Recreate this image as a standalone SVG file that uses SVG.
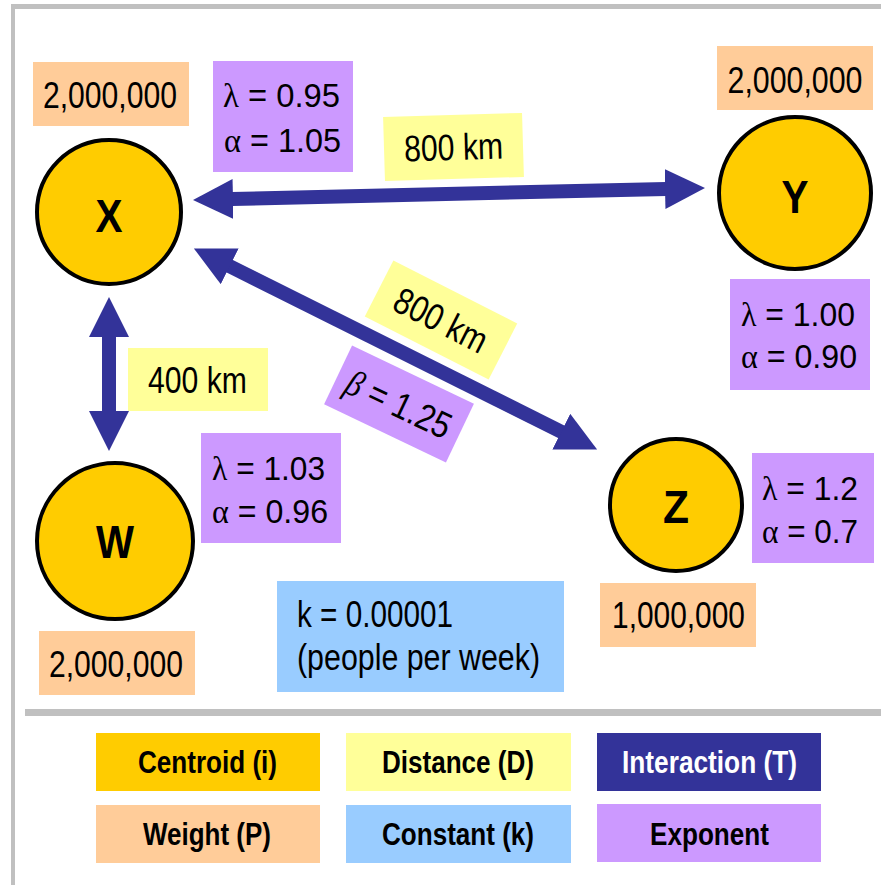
<svg xmlns="http://www.w3.org/2000/svg" width="881" height="885" viewBox="0 0 881 885">
  <style>
    text { font-family: "Liberation Sans", Arial, sans-serif; fill: #000; }
    .gk { font-family: "Liberation Serif", "Times New Roman", serif; }
    .w { fill: #FFCC99; }
    .e { fill: #CC99FF; }
    .d { fill: #FFFF99; }
    .k { fill: #99CCFF; }
    .node { fill: #FFCC00; stroke: #000; stroke-width: 4; }
    .lbl { font-size: 47px; font-weight: bold; text-anchor: middle; }
    .num { font-size: 37px; text-anchor: middle; }
    .exp { font-size: 34px; }
    .leg { font-size: 31px; font-weight: bold; text-anchor: middle; }
    .link { stroke: #333399; stroke-width: 14; fill: none; marker-start: url(#head); marker-end: url(#head); }
  </style>
  <defs>
    <marker id="head" markerUnits="userSpaceOnUse" markerWidth="40" markerHeight="40" viewBox="0 0 40 40" refX="1" refY="20" orient="auto-start-reverse">
      <path d="M0,0 L40,20 L0,40 Z" fill="#333399"/>
    </marker>
  </defs>

  <!-- frame -->
  <rect x="11" y="4" width="870" height="5" fill="#C0C0C0"/>
  <rect x="11" y="4" width="4" height="881" fill="#C0C0C0"/>
  <rect x="25" y="709" width="856" height="7" fill="#C0C0C0"/>

  <!-- connectors -->
  <g id="connectors">
    <line class="link" x1="232" y1="199.07" x2="666" y2="188.93"/>
    <line class="link" x1="228.79" y1="265.85" x2="562.21" y2="432.15"/>
    <line class="link" x1="109" y1="336" x2="109" y2="412"/>
  </g>

  <!-- distances and distance exponent -->
  <g id="dist-xy" transform="translate(453.5,147) rotate(-1.7)">
    <rect class="d" x="-69.5" y="-32" width="139" height="64"/>
    <text class="num" x="0" y="13" textLength="99" lengthAdjust="spacingAndGlyphs">800 km</text>
  </g>
  <g id="dist-xz" transform="translate(441,320) rotate(27)">
    <rect class="d" x="-69.5" y="-31.5" width="139" height="63"/>
    <text class="num" x="0" y="13" textLength="100" lengthAdjust="spacingAndGlyphs">800 km</text>
  </g>
  <g id="beta" transform="translate(399,404) rotate(25.5)">
    <rect class="e" x="-67.5" y="-32.5" width="135" height="65"/>
    <text class="num" x="0" y="13" textLength="112" lengthAdjust="spacingAndGlyphs"><tspan class="gk" font-style="italic">β</tspan> = 1.25</text>
  </g>
  <g id="dist-xw">
    <rect class="d" x="128" y="348" width="140" height="63"/>
    <text class="num" x="197.5" y="393" textLength="99" lengthAdjust="spacingAndGlyphs">400 km</text>
  </g>

  <!-- node X -->
  <g id="node-x">
    <rect class="w" x="33" y="62" width="156" height="64"/>
    <text class="num" x="110" y="108" textLength="134" lengthAdjust="spacingAndGlyphs">2,000,000</text>
    <rect class="e" x="213" y="61" width="140" height="111"/>
    <text class="exp" x="223" y="107" textLength="117" lengthAdjust="spacingAndGlyphs"><tspan class="gk">λ</tspan> = 0.95</text>
    <text class="exp" x="224" y="152" textLength="117" lengthAdjust="spacingAndGlyphs"><tspan class="gk">α</tspan> = 1.05</text>
    <circle class="node" cx="109" cy="212" r="72"/>
    <text class="lbl" x="109" y="232" textLength="27" lengthAdjust="spacingAndGlyphs">X</text>
  </g>

  <!-- node Y -->
  <g id="node-y">
    <rect class="w" x="717" y="46" width="156" height="64"/>
    <text class="num" x="795" y="93" textLength="135" lengthAdjust="spacingAndGlyphs">2,000,000</text>
    <circle class="node" cx="795" cy="193" r="76"/>
    <text class="lbl" x="795" y="213" textLength="27" lengthAdjust="spacingAndGlyphs">Y</text>
    <rect class="e" x="730" y="279" width="140" height="111"/>
    <text class="exp" x="741" y="326" textLength="114" lengthAdjust="spacingAndGlyphs"><tspan class="gk">λ</tspan> = 1.00</text>
    <text class="exp" x="741" y="368" textLength="116" lengthAdjust="spacingAndGlyphs"><tspan class="gk">α</tspan> = 0.90</text>
  </g>

  <!-- node W -->
  <g id="node-w">
    <rect class="e" x="201" y="433" width="140" height="110"/>
    <text class="exp" x="212" y="480" textLength="113" lengthAdjust="spacingAndGlyphs"><tspan class="gk">λ</tspan> = 1.03</text>
    <text class="exp" x="212" y="523" textLength="116" lengthAdjust="spacingAndGlyphs"><tspan class="gk">α</tspan> = 0.96</text>
    <circle class="node" cx="115" cy="541" r="78"/>
    <text class="lbl" x="115" y="558" textLength="38" lengthAdjust="spacingAndGlyphs">W</text>
    <rect class="w" x="39" y="631" width="156" height="64"/>
    <text class="num" x="116" y="677" textLength="134" lengthAdjust="spacingAndGlyphs">2,000,000</text>
  </g>

  <!-- node Z -->
  <g id="node-z">
    <circle class="node" cx="676" cy="505" r="66"/>
    <text class="lbl" x="676" y="523" textLength="26" lengthAdjust="spacingAndGlyphs">Z</text>
    <rect class="e" x="752" y="453" width="122" height="110"/>
    <text class="exp" x="762" y="500" textLength="96" lengthAdjust="spacingAndGlyphs"><tspan class="gk">λ</tspan> = 1.2</text>
    <text class="exp" x="762" y="543" textLength="96" lengthAdjust="spacingAndGlyphs"><tspan class="gk">α</tspan> = 0.7</text>
    <rect class="w" x="600" y="583" width="156" height="64"/>
    <text class="num" x="678.5" y="628" textLength="133" lengthAdjust="spacingAndGlyphs">1,000,000</text>
  </g>

  <!-- constant -->
  <g id="constant">
    <rect class="k" x="277" y="581" width="287" height="111"/>
    <text class="num" x="297" y="627" style="text-anchor:start" textLength="156" lengthAdjust="spacingAndGlyphs">k = 0.00001</text>
    <text class="num" x="297" y="670" style="text-anchor:start" textLength="243" lengthAdjust="spacingAndGlyphs">(people per week)</text>
  </g>

  <!-- legend -->
  <g id="legend">
    <rect x="96" y="733" width="224" height="58" fill="#FFCC00"/>
    <text class="leg" x="207.5" y="773" textLength="139" lengthAdjust="spacingAndGlyphs">Centroid (i)</text>
    <rect class="d" x="346" y="733" width="225" height="58"/>
    <text class="leg" x="458" y="773" textLength="152" lengthAdjust="spacingAndGlyphs">Distance (D)</text>
    <rect x="597" y="733" width="224" height="58" fill="#333399"/>
    <text class="leg" x="709.5" y="773" textLength="175" lengthAdjust="spacingAndGlyphs" style="fill:#fff">Interaction (T)</text>
    <rect class="w" x="96" y="805" width="224" height="58"/>
    <text class="leg" x="207" y="845" textLength="128" lengthAdjust="spacingAndGlyphs">Weight (P)</text>
    <rect class="k" x="346" y="805" width="225" height="58"/>
    <text class="leg" x="458" y="845" textLength="152" lengthAdjust="spacingAndGlyphs">Constant (k)</text>
    <rect class="e" x="597" y="804" width="224" height="58"/>
    <text class="leg" x="709.5" y="845" textLength="119" lengthAdjust="spacingAndGlyphs">Exponent</text>
  </g>
</svg>
